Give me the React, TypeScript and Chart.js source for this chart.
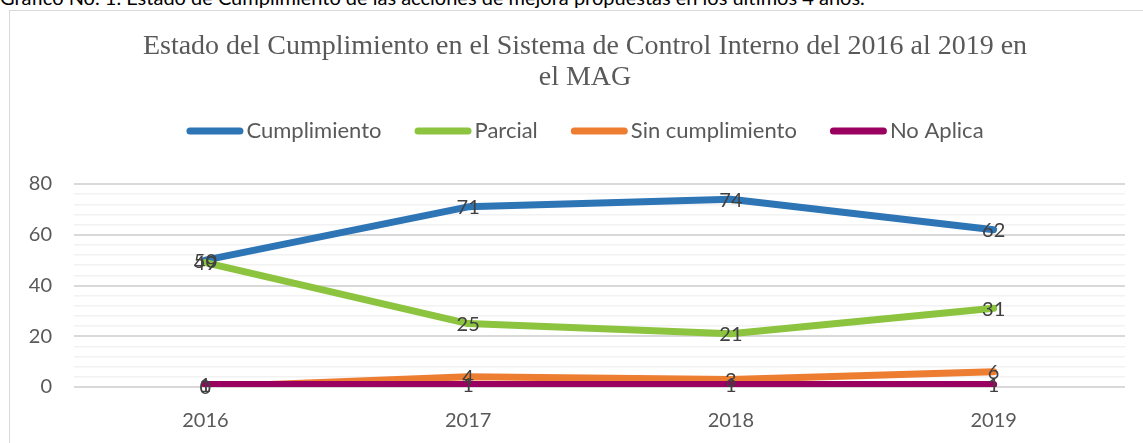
import React, { useEffect, useRef } from "react";
import { Chart, registerables } from "chart.js";

Chart.register(...registerables);

const categories = ["2016", "2017", "2018", "2019"];
const cumplimiento = [50, 71, 74, 62];
const parcial = [49, 25, 21, 31];
const sinCumplimiento = [0, 4, 3, 6];
const noAplica = [1, 1, 1, 1];
const seriesNames = ["Cumplimiento", "Parcial", "Sin cumplimiento", "No Aplica"];
const seriesColors = ["#2E75B6", "#8CC43F", "#ED7D31", "#990060"];
const titleLines = [
  "Estado del Cumplimiento en el Sistema de Control Interno del 2016 al 2019 en",
  "el MAG",
];
const captionText =
  "Gráfico No. 1. Estado de Cumplimiento de las acciones de mejora propuestas en los últimos  4 años.";

const SANS = "Lato, 'Open Sans', sans-serif";

const decorPlugin = {
  id: "decor",
  afterDraw(chart: any) {
    const ctx = chart.ctx;
    ctx.save();
    // title
    ctx.fillStyle = "#595959";
    ctx.font = "28px 'Liberation Serif', serif";
    ctx.textAlign = "center";
    ctx.textBaseline = "alphabetic";
    const cx = 585;
    ctx.fillText(titleLines[0], cx, 54);
    ctx.fillText(titleLines[1], cx, 85);

    // legend
    ctx.font = `22px ${SANS}`;
    const mW = 57;
    const gapText = 3;
    const gapItem = 33;
    const widths = seriesNames.map((n) => ctx.measureText(n).width);
    let total = 0;
    widths.forEach((w, i) => {
      total += mW + gapText + w + (i < widths.length - 1 ? gapItem : 0);
    });
    let x = cx - total / 2;
    const ly = 131;
    ctx.textAlign = "left";
    ctx.textBaseline = "middle";
    seriesNames.forEach((n, i) => {
      ctx.strokeStyle = seriesColors[i];
      ctx.lineWidth = 7;
      ctx.lineCap = "round";
      ctx.beginPath();
      ctx.moveTo(x + 3.5, ly);
      ctx.lineTo(x + mW - 3.5, ly);
      ctx.stroke();
      ctx.fillStyle = "#595959";
      ctx.fillText(n, x + mW + gapText, ly);
      x += mW + gapText + widths[i] + gapItem;
    });

    // data labels
    ctx.font = `20px ${SANS}`;
    ctx.fillStyle = "#404040";
    ctx.textAlign = "center";
    ctx.textBaseline = "middle";
    chart.data.datasets.forEach((ds: any, di: number) => {
      const meta = chart.getDatasetMeta(di);
      meta.data.forEach((pt: any, i: number) => {
        ctx.fillText(String(ds.data[i]), pt.x, pt.y + 1);
      });
    });
    ctx.restore();
  },
};

export default function App() {
  const ref = useRef<HTMLCanvasElement>(null);
  useEffect(() => {
    if (!ref.current) return;
    const allData = [cumplimiento, parcial, sinCumplimiento, noAplica];
    const chart = new Chart(ref.current, {
      type: "line",
      data: {
        labels: categories,
        datasets: allData.map((d, i) => ({
          label: seriesNames[i],
          data: d,
          borderColor: seriesColors[i],
          backgroundColor: seriesColors[i],
          borderWidth: 7,
          borderCapStyle: "round" as const,
          borderJoinStyle: "round" as const,
          pointRadius: 0,
          tension: 0,
          order: 4 - i,
        })),
      },
      options: {
        animation: false,
        responsive: false,
        maintainAspectRatio: false,
        events: [],
        layout: { padding: { left: 10, right: 18, top: 184, bottom: 16 } },
        plugins: {
          legend: { display: false },
          title: { display: false },
          tooltip: { enabled: false },
        },
        scales: {
          x: {
            offset: true,
            grid: { display: false },
            border: { display: false },
            ticks: {
              color: "#595959",
              font: { family: SANS, size: 20 },
              padding: 14,
              maxRotation: 0,
            },
            afterFit: (s: any) => {
              s.height = 40;
            },
          },
          y: {
            min: 0,
            max: 80,
            border: { display: false },
            grid: {
              drawTicks: false,
              color: (c: any) => (c.tick.value % 20 === 0 ? "#d9d9d9" : "#f2f2f2"),
              lineWidth: (c: any) => (c.tick.value % 20 === 0 ? 2 : 1.5),
            },
            ticks: {
              stepSize: 4,
              autoSkip: false,
              color: "#595959",
              font: { family: SANS, size: 20 },
              padding: 22,
              callback: (v: any) => (Number(v) % 20 === 0 ? String(v) : ""),
            },
            afterFit: (s: any) => {
              s.width = 64;
            },
          },
        },
      },
      plugins: [decorPlugin],
    });
    return () => chart.destroy();
  }, []);

  return (
    <div
      style={{
        position: "fixed",
        left: 0,
        top: 0,
        width: 1143,
        height: 443,
        overflow: "hidden",
        background: "#ffffff",
      }}
    >
      <div
        style={{
          position: "absolute",
          left: 0,
          top: -15,
          whiteSpace: "nowrap",
          fontFamily: SANS,
          fontSize: 20,
          color: "#000000",
        }}
      >
        {captionText}
      </div>
      <div
        style={{
          position: "absolute",
          left: 9,
          top: 10,
          width: 1300,
          height: 600,
          border: "1px solid #d9d9d9",
        }}
      />
      <canvas
        ref={ref}
        width={1143}
        height={443}
        style={{ position: "absolute", left: 0, top: 0, width: 1143, height: 443 }}
      />
    </div>
  );
}
